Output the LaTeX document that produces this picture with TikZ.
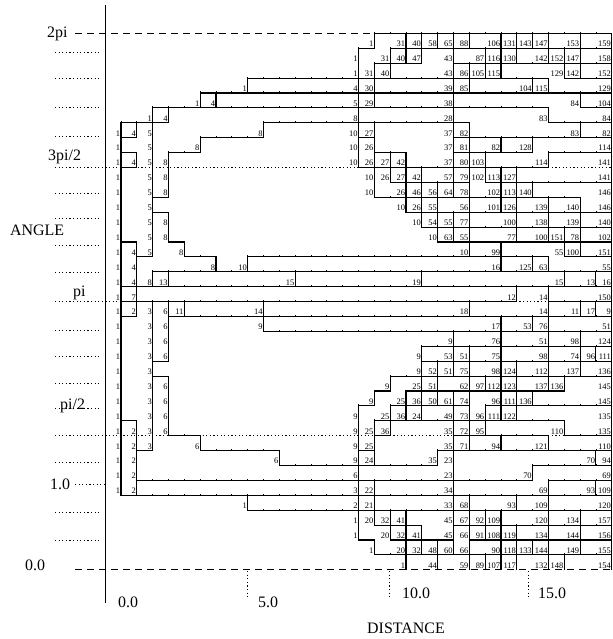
\documentclass[tikz,border=0pt]{standalone}
\usepackage{fontspec}
\setmainfont{Liberation Serif}
\expandafter\def\csname rd0\endcsname{17/1,19/31,20/40,21/58,22/65,23/88,25/106,26/131,27/143,28/147,30/153,32/159}
\expandafter\def\csname rd1\endcsname{16/1,18/31,19/40,20/47,22/43,24/87,25/116,26/130,28/142,29/152,30/147,32/158}
\expandafter\def\csname rd2\endcsname{16/1,17/31,18/40,22/43,23/86,24/105,25/115,29/129,30/142,32/152}
\expandafter\def\csname rd3\endcsname{9/1,16/4,17/30,22/39,23/85,27/104,28/115,32/129}
\expandafter\def\csname rd4\endcsname{6/1,7/4,16/5,17/29,22/38,30/84,32/104}
\expandafter\def\csname rd5\endcsname{3/1,4/4,16/8,22/28,28/83,32/84}
\expandafter\def\csname rd6\endcsname{1/1,2/4,3/5,10/8,16/10,17/27,22/37,23/82,30/83,32/82}
\expandafter\def\csname rd7\endcsname{1/1,3/5,6/8,16/10,17/26,22/37,23/81,25/82,27/128,32/114}
\expandafter\def\csname rd8\endcsname{1/1,2/4,3/5,4/8,16/10,17/26,18/27,19/42,22/37,23/80,24/103,28/114,32/141}
\expandafter\def\csname rd9\endcsname{1/1,3/5,4/8,17/10,18/26,19/27,20/42,22/57,23/79,24/102,25/113,26/127,32/141}
\expandafter\def\csname rd10\endcsname{1/1,3/5,4/8,17/10,19/26,20/46,21/56,22/64,23/78,25/102,26/113,27/140,32/146}
\expandafter\def\csname rd11\endcsname{1/1,3/5,19/10,20/26,21/55,23/56,25/101,26/126,28/139,30/140,32/146}
\expandafter\def\csname rd12\endcsname{1/1,3/5,4/8,20/10,21/54,22/55,23/77,26/100,28/138,30/139,32/140}
\expandafter\def\csname rd13\endcsname{1/1,3/5,4/8,21/10,22/63,23/55,26/77,28/100,29/151,30/78,32/102}
\expandafter\def\csname rd14\endcsname{1/1,2/4,3/5,5/8,23/10,25/99,29/55,30/100,32/151}
\expandafter\def\csname rd15\endcsname{1/1,2/4,7/8,9/10,25/16,27/125,28/63,32/55}
\expandafter\def\csname rd16\endcsname{1/1,2/4,3/8,4/13,12/15,20/19,29/15,31/13,32/16}
\expandafter\def\csname rd17\endcsname{1/1,2/7,26/12,28/14,32/150}
\expandafter\def\csname rd18\endcsname{1/1,2/2,3/3,4/6,5/11,10/14,23/18,28/14,30/11,31/17,32/9}
\expandafter\def\csname rd19\endcsname{1/1,3/3,4/6,10/9,25/17,27/53,28/76,32/51}
\expandafter\def\csname rd20\endcsname{1/1,3/3,4/6,22/9,25/76,28/51,30/98,32/124}
\expandafter\def\csname rd21\endcsname{1/1,3/3,4/6,20/9,22/53,23/51,25/75,28/98,30/74,31/96,32/111}
\expandafter\def\csname rd22\endcsname{1/1,3/3,20/9,21/52,22/51,23/75,25/98,26/124,28/112,30/137,32/136}
\expandafter\def\csname rd23\endcsname{1/1,3/3,4/6,18/9,20/25,21/51,23/62,24/97,25/112,26/123,28/137,29/136,32/145}
\expandafter\def\csname rd24\endcsname{1/1,3/3,4/6,17/9,19/25,20/36,21/50,22/61,23/74,25/96,26/111,27/136,32/145}
\expandafter\def\csname rd25\endcsname{1/1,3/3,4/6,16/9,18/25,19/36,20/24,22/49,23/73,24/96,25/111,26/122,32/135}
\expandafter\def\csname rd26\endcsname{1/1,2/2,3/3,4/6,16/9,17/25,18/36,22/35,23/72,24/95,29/110,32/135}
\expandafter\def\csname rd27\endcsname{1/1,2/2,3/3,6/6,16/9,17/25,22/35,23/71,25/94,28/121,32/110}
\expandafter\def\csname rd28\endcsname{1/1,2/2,11/6,16/9,17/24,21/35,22/23,31/70,32/94}
\expandafter\def\csname rd29\endcsname{1/1,2/2,16/6,22/23,27/70,32/69}
\expandafter\def\csname rd30\endcsname{1/1,2/2,16/3,17/22,22/34,28/69,31/93,32/109}
\expandafter\def\csname rd31\endcsname{9/1,16/2,17/21,22/33,23/68,26/93,28/109,32/120}
\expandafter\def\csname rd32\endcsname{16/1,17/20,18/32,19/41,22/45,23/67,24/92,25/109,28/120,30/134,32/157}
\expandafter\def\csname rd33\endcsname{16/1,18/20,19/32,20/41,22/45,23/66,24/91,25/108,26/119,28/134,30/144,32/156}
\expandafter\def\csname rd34\endcsname{17/1,19/20,20/32,21/48,22/60,23/66,25/90,26/118,27/133,28/144,30/149,32/155}
\expandafter\def\csname rd35\endcsname{19/1,21/44,23/59,24/89,25/107,26/117,28/132,29/148,32/154}
\begin{document}
\begin{tikzpicture}[x=1bp,y=-1bp,
  grid/.style={line width=1.1bp,line cap=rect},
  tick/.style={line width=0.8bp},
  num/.style={anchor=base east,inner sep=0pt,font=\fontsize{8.5}{9}\selectfont},
  axlab/.style={inner sep=0pt,font=\fontsize{16}{18}\selectfont},
  dotl/.style={line width=1bp,dash pattern=on 1.2bp off 2.4bp},
  dashl/.style={line width=1bp,dash pattern=on 7bp off 5bp}]
\useasboundingbox (0,0) rectangle (613,639);
% fill cell labels
\foreach \r in {0,...,35}{%
  \xdef\prevJ{0}%
  \expandafter\let\expandafter\data\csname rd\r\endcsname
  \foreach \J/\lab in \data {%
    \pgfmathtruncatemacro\a{\prevJ+1}%
    \foreach \c in {\a,...,\J}{\expandafter\xdef\csname L-\r-\c\endcsname{\lab}}%
    \xdef\prevJ{\J}%
  }%
}
% axes and guide lines
\draw[line width=1bp] (105.2,5) -- (105.2,603);
\draw[dashl] (75,33.4) -- (613,33.4);
\draw[dashl] (75,569.8) -- (613,569.8);
\draw[dotl] (55,167.5) -- (613,167.5);
\draw[dotl] (55,301.6) -- (613,301.6);
\draw[dotl] (55,435.7) -- (613,435.7);
\draw[dotl] (75,484.4) -- (105,484.4);
\foreach \y in {53,79,108,137,193,218,245,272,330,356,383,408,462,512,540}
  \draw[dotl] (55,\y) -- (100,\y);
\draw[dotl] (247.3,571) -- (247.3,598);
\draw[dotl] (389.3,571) -- (389.3,598);
\draw[dotl] (528.3,571) -- (528.3,598);
% horizontal boundaries
\foreach \r in {0,...,35}{%
  \pgfmathtruncatemacro\rn{mod(\r+1,36)}%
  \pgfmathsetmacro\yy{\r==35 ? 33.4 : 33.4+14.9*(\r+1)}%
  \foreach \c in {1,...,32}{%
    \edef\la{\csname L-\r-\c\endcsname}%
    \edef\lb{\csname L-\rn-\c\endcsname}%
    \ifx\la\lb\else
      \draw[grid] ({105.2+15.83*(\c-1)},\yy) -- ({105.2+15.83*\c},\yy);
      \draw[tick] ({105.2+15.83*(\c-1)},\yy) -- ++(0,-1.5);
    \fi
  }%
}
% vertical boundaries and numbers
\foreach \r in {0,...,35}{%
  \expandafter\let\expandafter\data\csname rd\r\endcsname
  \foreach \J/\lab in \data {%
    \draw[grid] ({105.2+15.83*\J},{33.4+14.9*\r}) -- ({105.2+15.83*\J},{33.4+14.9*(\r+1)});
    \node[num] at ({105.2+15.83*\J-0.7},{33.4+14.9*(\r+1)-1.6}) {\lab};
  }%
}
% labels
\node[axlab,anchor=base west] at (47,38) {2pi};
\node[axlab,anchor=base west] at (48,161) {3pi/2};
\node[axlab,anchor=base west] at (10,235) {ANGLE};
\node[axlab,anchor=base west] at (73,296) {pi};
\node[axlab,anchor=base west] at (60,409) {pi/2};
\node[axlab,anchor=base west] at (50,489) {1.0};
\node[axlab,anchor=base west] at (25,570) {0.0};
\node[axlab,anchor=base west] at (118,607) {0.0};
\node[axlab,anchor=base west] at (258,607) {5.0};
\node[axlab,anchor=base west] at (402,598) {10.0};
\node[axlab,anchor=base west] at (538,598) {15.0};
\node[axlab,anchor=base west] at (367,633) {DISTANCE};
\end{tikzpicture}
\end{document}
